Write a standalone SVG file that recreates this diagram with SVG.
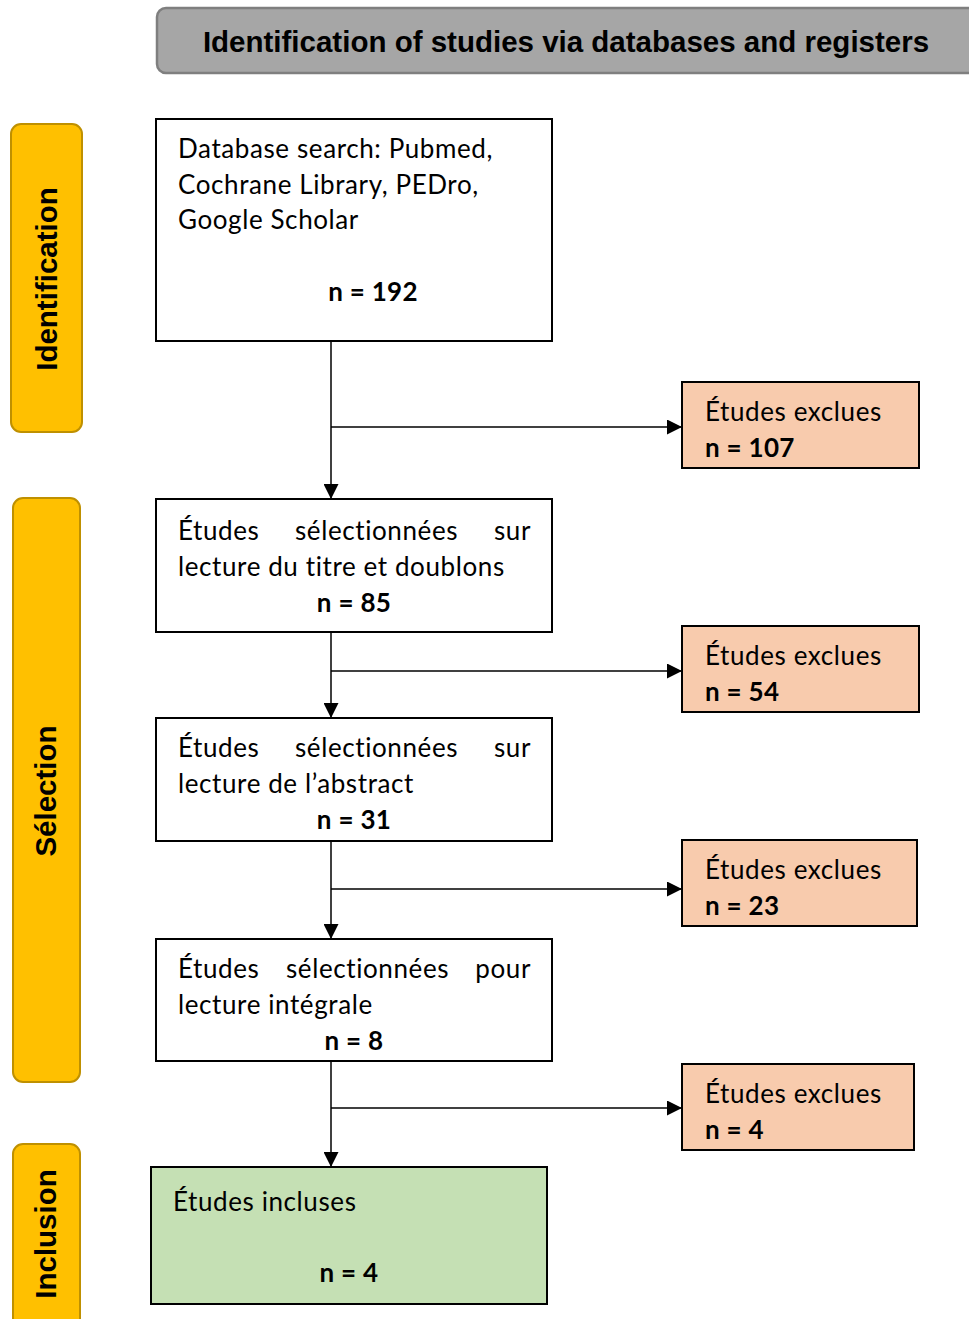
<svg xmlns="http://www.w3.org/2000/svg" width="969" height="1319" viewBox="0 0 969 1319">
<style>
.box{fill:#fff;stroke:#000;stroke-width:2}
.excl{fill:#f8cbad;stroke:#000;stroke-width:2}
.incl{fill:#c5e0b4;stroke:#000;stroke-width:2}
.side{fill:#ffc000;stroke:#bf9000;stroke-width:2}
.hdr{fill:#a6a6a6;stroke:#7f7f7f;stroke-width:2.5}
.t{font-family:Lato,"Open Sans",sans-serif;font-size:26px;letter-spacing:0.6px;font-variant-ligatures:none;fill:#000}
.b{font-weight:bold;letter-spacing:0.3px}
.side-t{font-family:"Liberation Sans",Arial,sans-serif;font-weight:bold;font-size:29.5px;fill:#000;text-anchor:middle}
.hdr-t{font-family:"Liberation Sans",Arial,sans-serif;font-weight:bold;font-size:29.5px;fill:#000;text-anchor:middle}
.c{fill:none;stroke:#000;stroke-width:1.5}
</style>
<defs>
<marker id="ah" markerWidth="15" markerHeight="15" refX="14" refY="7.5" orient="auto" markerUnits="userSpaceOnUse" viewBox="0 0 15 15">
<path d="M0,0 L15,7.5 L0,15 Z" fill="#000"/>
</marker>
</defs>
<rect width="969" height="1319" fill="#fff"/>
<g id="header">
<rect class="hdr" x="157" y="8" width="830" height="65" rx="9"/>
<text class="hdr-t" x="566" y="52">Identification of studies via databases and registers</text>
</g>
<g id="phase-identification">
<rect class="side" x="11" y="124" width="71" height="308" rx="10"/>
<text class="side-t" transform="translate(57,279) rotate(-90)">Identification</text>
</g>
<g id="phase-selection">
<rect class="side" x="13" y="498" width="67" height="584" rx="10"/>
<text class="side-t" transform="translate(56,791) rotate(-90)">Sélection</text>
</g>
<g id="phase-inclusion">
<rect class="side" x="13" y="1144" width="67" height="190" rx="10"/>
<text class="side-t" transform="translate(56,1234) rotate(-90)">Inclusion</text>
</g>
<g id="connectors">
<line class="c" x1="331" y1="341" x2="331" y2="498" marker-end="url(#ah)"/>
<line class="c" x1="331" y1="427" x2="681" y2="427" marker-end="url(#ah)"/>
<line class="c" x1="331" y1="632" x2="331" y2="717" marker-end="url(#ah)"/>
<line class="c" x1="331" y1="671" x2="681" y2="671" marker-end="url(#ah)"/>
<line class="c" x1="331" y1="841" x2="331" y2="938" marker-end="url(#ah)"/>
<line class="c" x1="331" y1="889" x2="681" y2="889" marker-end="url(#ah)"/>
<line class="c" x1="331" y1="1061" x2="331" y2="1166" marker-end="url(#ah)"/>
<line class="c" x1="331" y1="1108" x2="681" y2="1108" marker-end="url(#ah)"/>
</g>
<g id="box-search">
<rect class="box" x="156" y="119" width="396" height="222"/>
<text class="t" x="178" y="158">Database search: Pubmed,</text>
<text class="t" x="178" y="194">Cochrane Library, PEDro,</text>
<text class="t" x="178" y="229">Google Scholar</text>
<text class="t b" x="373" y="301" text-anchor="middle">n = 192</text>
</g>
<g id="excl-1">
<rect class="excl" x="682" y="382" width="237" height="86"/>
<text class="t" x="705" y="421">Études exclues</text>
<text class="t b" x="705" y="457">n = 107</text>
</g>
<g id="box-titre">
<rect class="box" x="156" y="499" width="396" height="133"/>
<text class="t" x="178" y="540">Études</text>
<text class="t" x="295" y="540">sélectionnées</text>
<text class="t" x="531" y="540" text-anchor="end">sur</text>
<text class="t" x="178" y="576">lecture du titre et doublons</text>
<text class="t b" x="354" y="612" text-anchor="middle">n = 85</text>
</g>
<g id="excl-2">
<rect class="excl" x="682" y="626" width="237" height="86"/>
<text class="t" x="705" y="665">Études exclues</text>
<text class="t b" x="705" y="701">n = 54</text>
</g>
<g id="box-abstract">
<rect class="box" x="156" y="718" width="396" height="123"/>
<text class="t" x="178" y="757">Études</text>
<text class="t" x="295" y="757">sélectionnées</text>
<text class="t" x="531" y="757" text-anchor="end">sur</text>
<text class="t" x="178" y="793">lecture de l’abstract</text>
<text class="t b" x="354" y="829" text-anchor="middle">n = 31</text>
</g>
<g id="excl-3">
<rect class="excl" x="682" y="840" width="235" height="86"/>
<text class="t" x="705" y="879">Études exclues</text>
<text class="t b" x="705" y="915">n = 23</text>
</g>
<g id="box-integrale">
<rect class="box" x="156" y="939" width="396" height="122"/>
<text class="t" x="178" y="978">Études</text>
<text class="t" x="286" y="978">sélectionnées</text>
<text class="t" x="531" y="978" text-anchor="end">pour</text>
<text class="t" x="178" y="1014">lecture intégrale</text>
<text class="t b" x="354" y="1050" text-anchor="middle">n = 8</text>
</g>
<g id="excl-4">
<rect class="excl" x="682" y="1064" width="232" height="86"/>
<text class="t" x="705" y="1103">Études exclues</text>
<text class="t b" x="705" y="1139">n = 4</text>
</g>
<g id="box-incluses">
<rect class="incl" x="151" y="1167" width="396" height="137"/>
<text class="t" x="173" y="1211">Études incluses</text>
<text class="t b" x="349" y="1282" text-anchor="middle">n = 4</text>
</g>
</svg>
